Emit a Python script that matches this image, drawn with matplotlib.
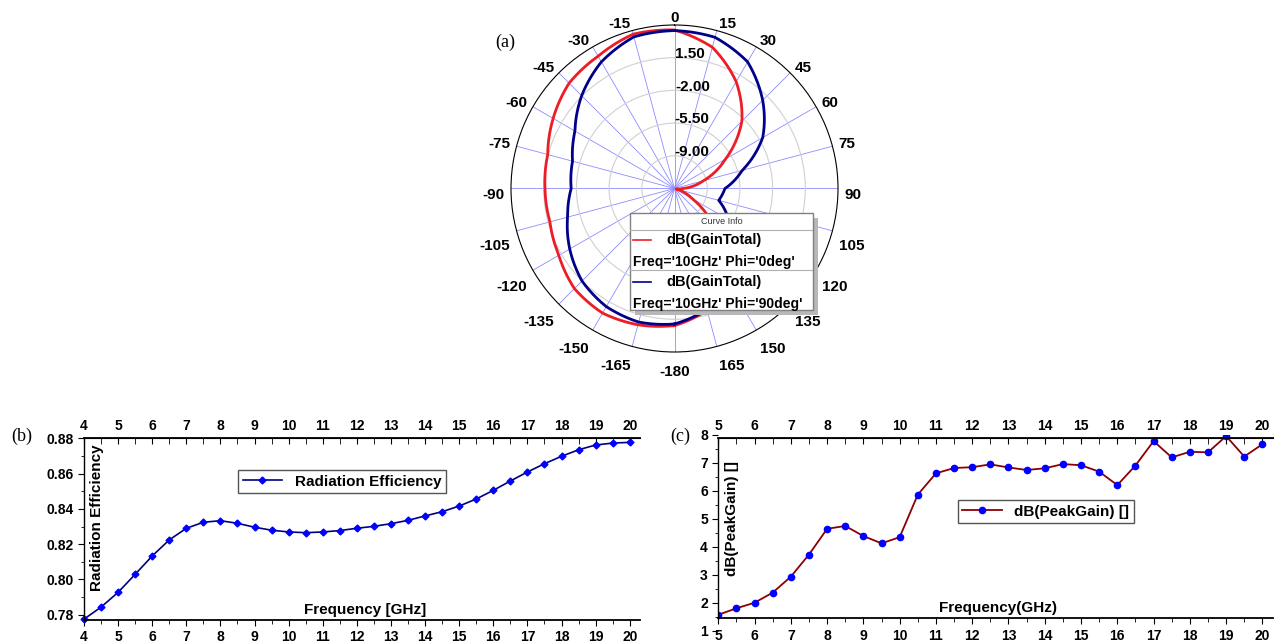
import numpy as np
import matplotlib.pyplot as plt
from matplotlib.patches import Rectangle
from matplotlib.transforms import ScaledTranslation

plt.rcParams['font.family'] = ['Liberation Sans', 'DejaVu Sans']
plt.rcParams['font.weight'] = 'bold'

# (a) 10 GHz 方向图, 单位 dB
theta_deg = np.arange(-180, 181, 15)
gain_phi0 = [2.17, 2.6, 2.9, 2.65, 1.8, 1.3, 1.36, 1.55, 2.5, 3.45, 3.85, 4.6,
             4.47, 3.15, 0.7, -2.3, -6.2, -9.3, -11.6, -12.3, -10.3, -6.4, -2.3, 1.0, 2.17]
gain_phi90 = [2.0, 2.3, 2.1, 1.5, 0.45, -0.65, -1.44, -1.2, -0.2, 1.55, 3.15, 4.3,
              4.4, 4.25, 3.15, 0.85, -1.6, -5.0, -7.1, -7.6, -5.8, -3.3, -1.2, 0.9, 2.0]
r_ticks = [-9.0, -5.5, -2.0, 1.5]
theta_ticks = np.arange(0, 360, 15)
theta_labels = [str(a) if a <= 165 else str(a - 360) for a in theta_ticks]

# (b) 辐射效率
freq_b = np.arange(4, 20.01, 0.5)
rad_eff = [0.7775, 0.7843, 0.7927, 0.8029, 0.8133, 0.8224, 0.8290, 0.8324, 0.8333,
           0.8318, 0.8296, 0.8279, 0.8269, 0.8265, 0.8269, 0.8277, 0.8290, 0.8301,
           0.8316, 0.8335, 0.8360, 0.8384, 0.8416, 0.8456, 0.8505, 0.8558, 0.8609,
           0.8656, 0.8698, 0.8735, 0.8762, 0.8773, 0.8777]

# (c) 峰值增益
freq_c = np.arange(5, 20.01, 0.5)
peak_gain = [1.57, 1.80, 2.00, 2.36, 2.93, 3.72, 4.64, 4.74, 4.38, 4.12, 4.34, 5.86,
             6.62, 6.81, 6.84, 6.94, 6.83, 6.74, 6.80, 6.95, 6.91, 6.68, 6.20, 6.90,
             7.77, 7.19, 7.39, 7.37, 7.95, 7.22, 7.66]

W, H = 1278, 642
fig = plt.figure(figsize=(W / 100, H / 100), dpi=100)

# ---------------- (a) polar ----------------
ax = fig.add_axes([511 / W, 1 - 352 / H, 327 / W, 327 / H], projection='polar')
ax.set_theta_zero_location('N')
ax.set_theta_direction(-1)
for g, col in [(gain_phi0, '#ee1c25'), (gain_phi90, '#00008b')]:
    ln, = ax.plot(np.deg2rad(theta_deg), g, color=col, lw=2.0, zorder=3)
    ln.get_path()._interpolation_steps = 30   # 在极坐标下按弧线绘制
ax.set_rlim(-12.5, 5)
ax.set_rticks(r_ticks)
ax.set_yticklabels([])
ax.set_xticks(np.deg2rad(theta_ticks))
ax.set_xticklabels([])
ax.set_xticks(np.deg2rad(np.arange(0, 360, 1)), minor=True)
ax.tick_params(axis='x', which='major', direction='in', length=7, width=0.8)
ax.tick_params(axis='x', which='minor', direction='in', length=4, width=0.5)
ax.xaxis.grid(True, color='#8c8cff', lw=0.6)
ax.yaxis.grid(True, color='#d0d0d0', lw=0.8)
ax.spines['polar'].set_linewidth(0.8)
for r in r_ticks:
    ax.text(np.deg2rad(0.3), r + 0.4, f'{r:.2f}', ha='left', va='center',
            fontsize=11, fontweight='bold', zorder=4)

# 角度标注: 以略低于圆心的点为中心放置
lab_tr = ax.transData + ScaledTranslation(0, -6.5 / 100, fig.dpi_scale_trans)
for a, s in zip(theta_ticks, theta_labels):
    sa, ca = np.sin(np.deg2rad(a)), np.cos(np.deg2rad(a))
    ha = 'left' if sa > 0.1 else ('right' if sa < -0.1 else 'center')
    va = 'bottom' if ca > 0.1 else ('top' if ca < -0.1 else 'center')
    ax.text(np.deg2rad(a), 5.7, s, transform=lab_tr, ha=ha, va=va,
            fontsize=11, fontweight='bold', clip_on=False)

# Curve Info 图例 (HFSS 风格)
lg = fig.add_axes([630 / W, 1 - 310 / H, 183 / W, 97 / H])
lg.set_xlim(0, 183)
lg.set_ylim(97, 0)
lg.axis('off')
lg.add_patch(Rectangle((5, 5), 183, 97, facecolor='#b8b8b8', edgecolor='none', clip_on=False, zorder=0))
lg.add_patch(Rectangle((0, 0), 183, 97, facecolor='white', edgecolor='#808080', lw=1, clip_on=False, zorder=1))
lg.text(91.5, 9, 'Curve Info', ha='center', va='center', fontsize=6.5, fontweight='normal', color='#333333', zorder=2)
lg.plot([0, 183], [16.5, 16.5], color='#b0b0b0', lw=0.8, zorder=2)
lg.plot([0, 183], [57, 57], color='#b0b0b0', lw=0.8, zorder=2)
for y0, col, phi in [(27, '#ee1c25', '0deg'), (69, '#00008b', '90deg')]:
    lg.plot([3, 21], [y0, y0], color=col, lw=1.2, zorder=2)
    lg.text(36, y0, 'dB(GainTotal)', ha='left', va='center', fontsize=10.5, zorder=2)
    lg.text(3, y0 + 22, f"Freq='10GHz' Phi='{phi}'", ha='left', va='center', fontsize=10, zorder=2)


def style_axes(a):
    a.spines['right'].set_visible(False)
    for s in ['top', 'bottom']:
        a.spines[s].set_linewidth(1.3)
    a.spines['left'].set_linewidth(1.0)
    a.tick_params(axis='both', which='both', labelsize=10)
    a.tick_params(axis='y', which='major', direction='out', length=4)
    a.tick_params(axis='y', which='minor', direction='out', length=2.5)
    a.tick_params(axis='x', which='major', direction='out', length=4)
    a.tick_params(axis='x', which='minor', direction='out', length=3)
    for t in a.get_xticklabels() + a.get_yticklabels():
        t.set_fontweight('bold')


# ---------------- (b) ----------------
axb = fig.add_axes([84 / W, 22 / H, 556 / W, 181.7 / H])
axb.plot(freq_b, rad_eff, color='#000080', lw=1.2, marker='D', ms=3.5,
         mfc='#0000ff', mec='#0000ff', label='Radiation Efficiency', clip_on=False)
axb.set_xlim(4, 20.3)
axb.set_ylim(0.777, 0.88)
axb.set_xticks(np.arange(4, 21, 1))
axb.set_xticks(np.arange(4.5, 20.3, 1), minor=True)
axb.set_yticks([0.78, 0.80, 0.82, 0.84, 0.86, 0.88])
axb.set_yticks([0.79, 0.81, 0.83, 0.85, 0.87], minor=True)
axb.yaxis.set_major_formatter('{x:.2f}')
style_axes(axb)
topb = axb.secondary_xaxis('top')
topb.set_xticks(np.arange(4, 21, 1))
topb.set_xticks(np.arange(4.5, 20.3, 1), minor=True)
topb.tick_params(which='both', direction='in', length=4, labelsize=10)
for t in topb.get_xticklabels():
    t.set_fontweight('bold')
axb.text(0.505, 0.055, 'Frequency [GHz]', transform=axb.transAxes, ha='center', va='center', fontsize=11)
axb.text(0.0228, 0.561, 'Radiation Efficiency', transform=axb.transAxes, rotation=90,
         ha='center', va='center', fontsize=11)
axb.legend(loc='upper left', bbox_to_anchor=(0.277, 0.8255), borderaxespad=0, fancybox=False,
           edgecolor='#555555', framealpha=1, prop={'weight': 'bold', 'size': 11},
           handlelength=2.6, borderpad=0.3)

# ---------------- (c) ----------------
axc = fig.add_axes([718.3 / W, 11.3 / H, 555 / W, 196 / H])
axc.plot(freq_c, peak_gain, color='#8b0000', lw=1.3, marker='o', ms=4.5,
         mfc='#0000ff', mec='#0000ff', label='dB(PeakGain) []')
axc.set_xlim(5, 20.3)
axc.set_ylim(1, 8)
axc.spines['bottom'].set_position(('data', 1.45))
axc.spines['top'].set_position(('data', 7.87))
axc.spines['left'].set_bounds(1.45, 7.87)
axc.set_xticks(np.arange(5, 21, 1))
axc.set_xticks(np.arange(5.5, 20.3, 1), minor=True)
axc.set_yticks(np.arange(1, 9, 1))
axc.set_yticks(np.arange(1.5, 8, 1), minor=True)
style_axes(axc)
topc = axc.secondary_xaxis((7.87 - 1) / 7)
topc.set_xticks(np.arange(5, 21, 1))
topc.set_xticks(np.arange(5.5, 20.3, 1), minor=True)
topc.tick_params(which='both', direction='in', length=4, labelsize=10)
for t in topc.get_xticklabels():
    t.set_fontweight('bold')
axc.text(0.504, 0.116, 'Frequency(GHz)', transform=axc.transAxes, ha='center', va='center', fontsize=11)
axc.text(0.024, 0.575, 'dB(PeakGain) []', transform=axc.transAxes, rotation=90,
         ha='center', va='center', fontsize=11)
axc.legend(loc='upper left', bbox_to_anchor=(0.4314, 0.667), borderaxespad=0, fancybox=False,
           edgecolor='#555555', framealpha=1, prop={'weight': 'bold', 'size': 11},
           handlelength=2.6, borderpad=0.3)

# 子图编号
for x, y, s in [(505, 42, '(a)'), (22, 436, '(b)'), (680, 436, '(c)')]:
    fig.text(x / W, 1 - y / H, s, family='Liberation Serif', fontweight='normal',
             fontsize=13, ha='center', va='center')

fig.savefig('out.png', dpi=100)
